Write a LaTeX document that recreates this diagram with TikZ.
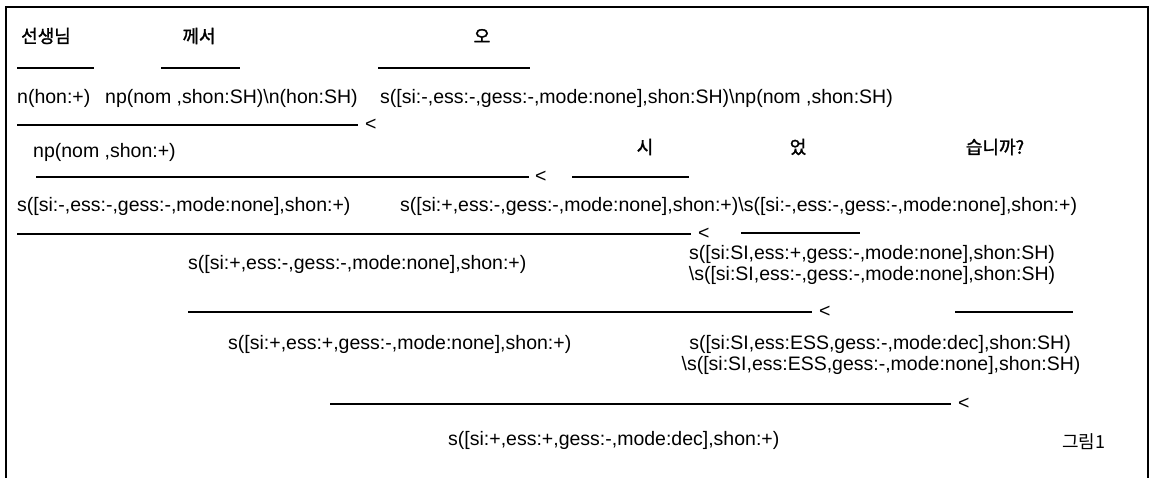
\documentclass[tikz,border=0pt]{standalone}
\usepackage{fontspec}
\setmainfont{Liberation Sans}
\newfontfamily\krbfont[FakeBold=1.5]{Noto Sans CJK KR}
\newfontfamily\krfont{Noto Sans CJK KR}
\begin{document}
\begin{tikzpicture}[x=1pt,y=-1pt,
  lt/.style={inner sep=0pt, anchor=west, font=\fontsize{19.5}{22}\selectfont},
  ct/.style={inner sep=0pt, anchor=center, font=\fontsize{19.5}{22}\selectfont},
  kor/.style={inner sep=0pt, anchor=center, font=\krbfont\fontsize{18}{21}\selectfont},
  lessthan/.style={inner sep=0pt, anchor=west, font=\fontsize{19.5}{22}\selectfont},
  bar/.style={line width=1.6pt},
  frame/.style={line width=2pt}
]
\useasboundingbox (0,0) rectangle (1151,478);
\draw[frame] (6,478) -- (6,7) -- (1148,7) -- (1148,478);

% row 1: Korean words
\node[kor] (w1) at (46,36) {선생님};
\node[kor] (w2) at (199,36) {께서};
\node[kor] (w3) at (482,36) {오};
\draw[bar] (17,68) -- (94,68);
\draw[bar] (161,68) -- (240,68);
\draw[bar] (378,68) -- (530,68);

% row 2
\node[lt] (t21) at (17,98) {n(hon:+)};
\node[lt] (t22) at (105,98) {np(nom ,shon:SH)\textbackslash n(hon:SH)};
\node[lt] (t23) at (380,98) {s([si:-,ess:-,gess:-,mode:none],shon:SH)\textbackslash np(nom ,shon:SH)};

% line 1
\draw[bar] (17,125) -- (358,125);
\node[lessthan] (l1) at (365,125) {<};

% row 3
\node[lt] (t31) at (33,152) {np(nom ,shon:+)};
\node[kor] (w4) at (645,147) {시};
\node[kor] (w5) at (798,147) {었};
\node[kor] (w6) at (995,147) {습니까?};

% line 2
\draw[bar] (36,177) -- (529,177);
\node[lessthan] (l2) at (535,177) {<};
\draw[bar] (572,177) -- (689,177);

% row 4
\node[lt] (t41) at (17,206) {s([si:-,ess:-,gess:-,mode:none],shon:+)};
\node[lt] (t42) at (400,206) {s([si:+,ess:-,gess:-,mode:none],shon:+)\textbackslash s([si:-,ess:-,gess:-,mode:none],shon:+)};

% line 3
\draw[bar] (17,234) -- (691,234);
\node[lessthan] (l3) at (698,234) {<};
\draw[bar] (741,233) -- (860,233);

% row 5
\node[ct] (t51) at (872,254) {s([si:SI,ess:+,gess:-,mode:none],shon:SH)};
\node[ct] (t52) at (872,275) {\textbackslash s([si:SI,ess:-,gess:-,mode:none],shon:SH)};
\node[lt] (t53) at (188,264) {s([si:+,ess:-,gess:-,mode:none],shon:+)};

% line 4
\draw[bar] (188,312) -- (812,312);
\node[lessthan] (l4) at (819,312) {<};
\draw[bar] (955,312) -- (1073,312);

% row 6
\node[lt] (t61) at (228,344) {s([si:+,ess:+,gess:-,mode:none],shon:+)};
\node[ct] (t62) at (880,344) {s([si:SI,ess:ESS,gess:-,mode:dec],shon:SH)};
\node[ct] (t63) at (881,365) {\textbackslash s([si:SI,ess:ESS,gess:-,mode:none],shon:SH)};

% line 5
\draw[bar] (330,404) -- (951,404);
\node[lessthan] (l5) at (958,404) {<};

% row 7
\node[lt] (t71) at (448,440) {s([si:+,ess:+,gess:-,mode:dec],shon:+)};
\node[inner sep=0pt, anchor=west, font=\krfont\fontsize{18}{21}\selectfont] (fig) at (1062,442) {그림1};
\end{tikzpicture}
\end{document}
